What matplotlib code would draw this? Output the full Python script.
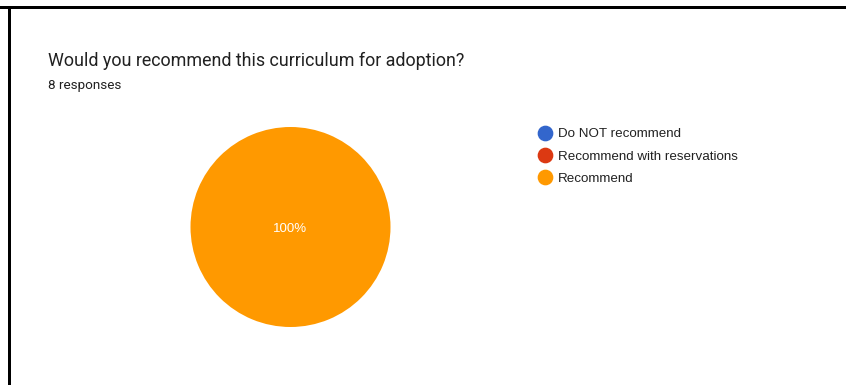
import matplotlib
matplotlib.use("Agg")
import matplotlib.pyplot as plt
from matplotlib.patches import Rectangle
from matplotlib.lines import Line2D

categories = ["Do NOT recommend", "Recommend with reservations", "Recommend"]
counts = [0, 0, 8]
colors = ["#3366cc", "#dc3912", "#ff9900"]
title = "Would you recommend this curriculum for adoption?"
subtitle = "8 responses"

W, H = 846, 385
fig = plt.figure(figsize=(W / 100, H / 100), dpi=100)
fig.patch.set_facecolor("white")

def fx(px):
    return px / W

def fy(py):
    return 1 - py / H

# border lines (black frame)
fig.patches.append(Rectangle((fx(0), fy(9)), fx(846), 3 / H, transform=fig.transFigure,
                             facecolor="black", edgecolor="none", zorder=5))
fig.patches.append(Rectangle((fx(8), fy(385)), 3 / W, (385 - 6) / H, transform=fig.transFigure,
                             facecolor="black", edgecolor="none", zorder=5))

fig.text(fx(48), fy(61), title, fontsize=12.85, family=["Roboto", "DejaVu Sans"],
         color="#212121", va="center", ha="left")
fig.text(fx(48), fy(85), subtitle, fontsize=9.7, family=["Roboto", "DejaVu Sans"],
         color="#212121", va="center", ha="left")

# pie axes
cx, cy, r = 290.5, 227, 100
ax = fig.add_axes([fx(cx - r), fy(cy + r), 2 * r / W, 2 * r / H])

def fmt(p):
    return f"{p:.0f}%" if p > 0 else ""

wedges, texts, autotexts = ax.pie(counts, colors=colors, startangle=90, counterclock=False,
                                  autopct=fmt, pctdistance=0.0,
                                  wedgeprops=dict(linewidth=0),
                                  textprops=dict(color="white", fontsize=9.5,
                                                 family=["Liberation Sans", "DejaVu Sans"]))
for t in autotexts:
    t.set_y(-0.02)
ax.set_aspect("equal")
ax.set_xlim(-1, 1)
ax.set_ylim(-1, 1)
ax.axis("off")

handles = [Line2D([], [], marker="o", linestyle="none", markersize=10.3,
                  markerfacecolor=c, markeredgecolor=c) for c in colors]
leg = fig.legend(handles, categories, loc="upper left",
                 bbox_to_anchor=(fx(540), fy(128)), frameon=False,
                 prop=dict(family=["Liberation Sans", "DejaVu Sans"], size=9.6),
                 handlelength=0.8, handletextpad=0.55, labelspacing=0.74,
                 borderpad=0, borderaxespad=0)
for t in leg.get_texts():
    t.set_color("#212121")

fig.savefig("out.png", dpi=100, facecolor="white")
